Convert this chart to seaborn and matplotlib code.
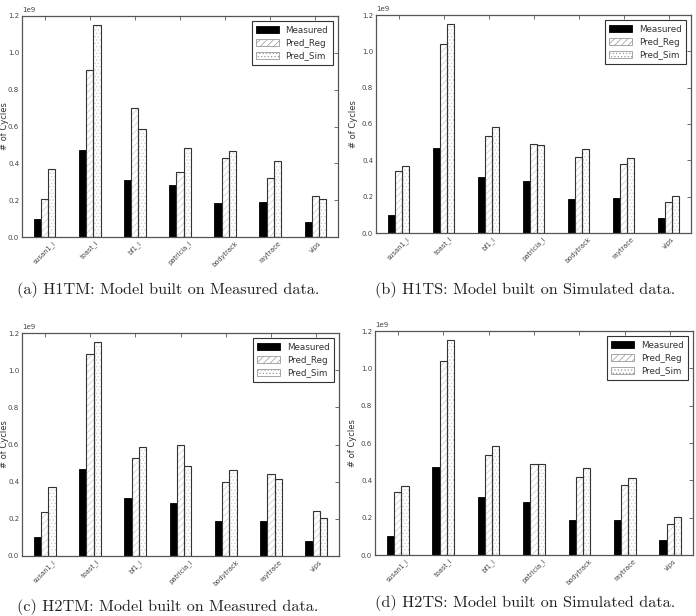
import pandas as pd
import matplotlib.pyplot as plt
import seaborn as sns
from matplotlib.patches import Patch, Rectangle

# benchmarks on the x axis
benchmarks = ['susan1_l', 'toast_l', 'bf1_l', 'patricia_l', 'bodytrack', 'raytrace', 'vips']
series = ['Measured', 'Pred_Reg', 'Pred_Sim']

# cycles, in units of 1e9
measured = [0.10, 0.47, 0.31, 0.285, 0.187, 0.19, 0.082]
sim = [0.37, 1.15, 0.585, 0.485, 0.465, 0.415, 0.205]

reg_h1tm = [0.205, 0.905, 0.70, 0.352, 0.43, 0.322, 0.22]
reg_h1ts = [0.34, 1.04, 0.535, 0.49, 0.42, 0.378, 0.168]
reg_h2tm = [0.235, 1.085, 0.525, 0.60, 0.40, 0.44, 0.24]
reg_h2ts = [0.34, 1.04, 0.535, 0.485, 0.42, 0.375, 0.165]

captions = ['(a) H1TM: Model built on Measured data.',
            '(b) H1TS: Model built on Simulated data.',
            '(c) H2TM: Model built on Measured data.',
            '(d) H2TS: Model built on Simulated data.']

W, H = 696, 616
# axes boxes in pixels: left, top, right, bottom
boxes = [(22, 16, 338, 237), (376, 15, 691, 233),
         (22, 333, 339, 556), (375, 331, 693, 555)]
caption_pos = [(168, 290), (525, 290), (168, 607), (525, 603)]
ylabel_x = [9, 358, 9, 357]  # right edge of the rotated y label, pixels

hatches = {'Measured': '', 'Pred_Reg': '/////', 'Pred_Sim': '.....'}
fills = {'Measured': 'black', 'Pred_Reg': 'white', 'Pred_Sim': 'white'}

plt.rcParams['hatch.linewidth'] = 0.5


def build_df(reg):
    rows = []
    for i, b in enumerate(benchmarks):
        rows.append((b, 'Measured', measured[i] * 1e9))
        rows.append((b, 'Pred_Reg', reg[i] * 1e9))
        rows.append((b, 'Pred_Sim', sim[i] * 1e9))
    return pd.DataFrame(rows, columns=['bench', 'series', 'cycles'])


def draw_panel(ax, df):
    sns.barplot(data=df, x='bench', y='cycles', hue='series', hue_order=series,
                palette=fills, saturation=1, width=0.48, gap=0,
                errorbar=None, legend=False, ax=ax)
    for cont, s in zip(ax.containers, series):
        for bar in cont:
            if s == 'Measured':
                bar.set_edgecolor('black')
                bar.set_linewidth(0.6)
                continue
            bar.set_hatch(hatches[s])
            bar.set_edgecolor('#cccccc')
            bar.set_linewidth(0)
            ax.add_patch(Rectangle(bar.get_xy(), bar.get_width(), bar.get_height(),
                                   fill=False, ec='#333333', lw=0.8, zorder=3))
    ax.set_xlim(-0.5, len(benchmarks) - 0.5)
    ax.set_ylim(0, 1.2e9)
    ax.set_yticks([i * 0.2e9 for i in range(7)])
    ax.set_xlabel('')
    ax.set_ylabel('# of Cycles', fontsize=6, color='#333333')
    ax.tick_params(direction='in', top=True, right=True, length=3, width=0.6,
                   color='#555555', labelsize=5, labelcolor='#444444', pad=2)
    ax.tick_params(axis='x', labelsize=4.8)
    for lab in ax.get_xticklabels():
        lab.set_rotation(45)
        lab.set_ha('center')
    ax.yaxis.get_offset_text().set_fontsize(5)
    ax.yaxis.get_offset_text().set_color('#444444')
    for sp in ax.spines.values():
        sp.set_color('#555555')
        sp.set_linewidth(0.9)
    handles = [Patch(facecolor=fills[s], hatch=hatches[s],
                     edgecolor='black' if s == 'Measured' else '#999999', lw=0.6)
               for s in series]
    leg = ax.legend(handles, series, loc='upper right', fontsize=6.3, fancybox=False,
                    framealpha=1, edgecolor='#333333', borderpad=0.5,
                    handlelength=2.6, handleheight=0.8, labelspacing=0.45,
                    borderaxespad=0.6)
    leg.get_frame().set_linewidth(0.8)
    for t in leg.get_texts():
        t.set_color('#333333')


sns.set_style('white')
fig = plt.figure(figsize=(W / 100, H / 100), dpi=100)
regs = [reg_h1tm, reg_h1ts, reg_h2tm, reg_h2ts]
for k in range(4):
    l, t, r, b = boxes[k]
    ax = fig.add_axes([l / W, 1 - b / H, (r - l) / W, (b - t) / H])
    draw_panel(ax, build_df(regs[k]))
    ax.yaxis.set_label_coords((ylabel_x[k] - l) / (r - l), 0.5)
    cx, cy = caption_pos[k]
    fig.text(cx / W, 1 - cy / H, captions[k], ha='center', va='center',
             fontsize=11.7, family='cmr10', color='#222222')

fig.savefig('out.png', dpi=100, facecolor='white')
